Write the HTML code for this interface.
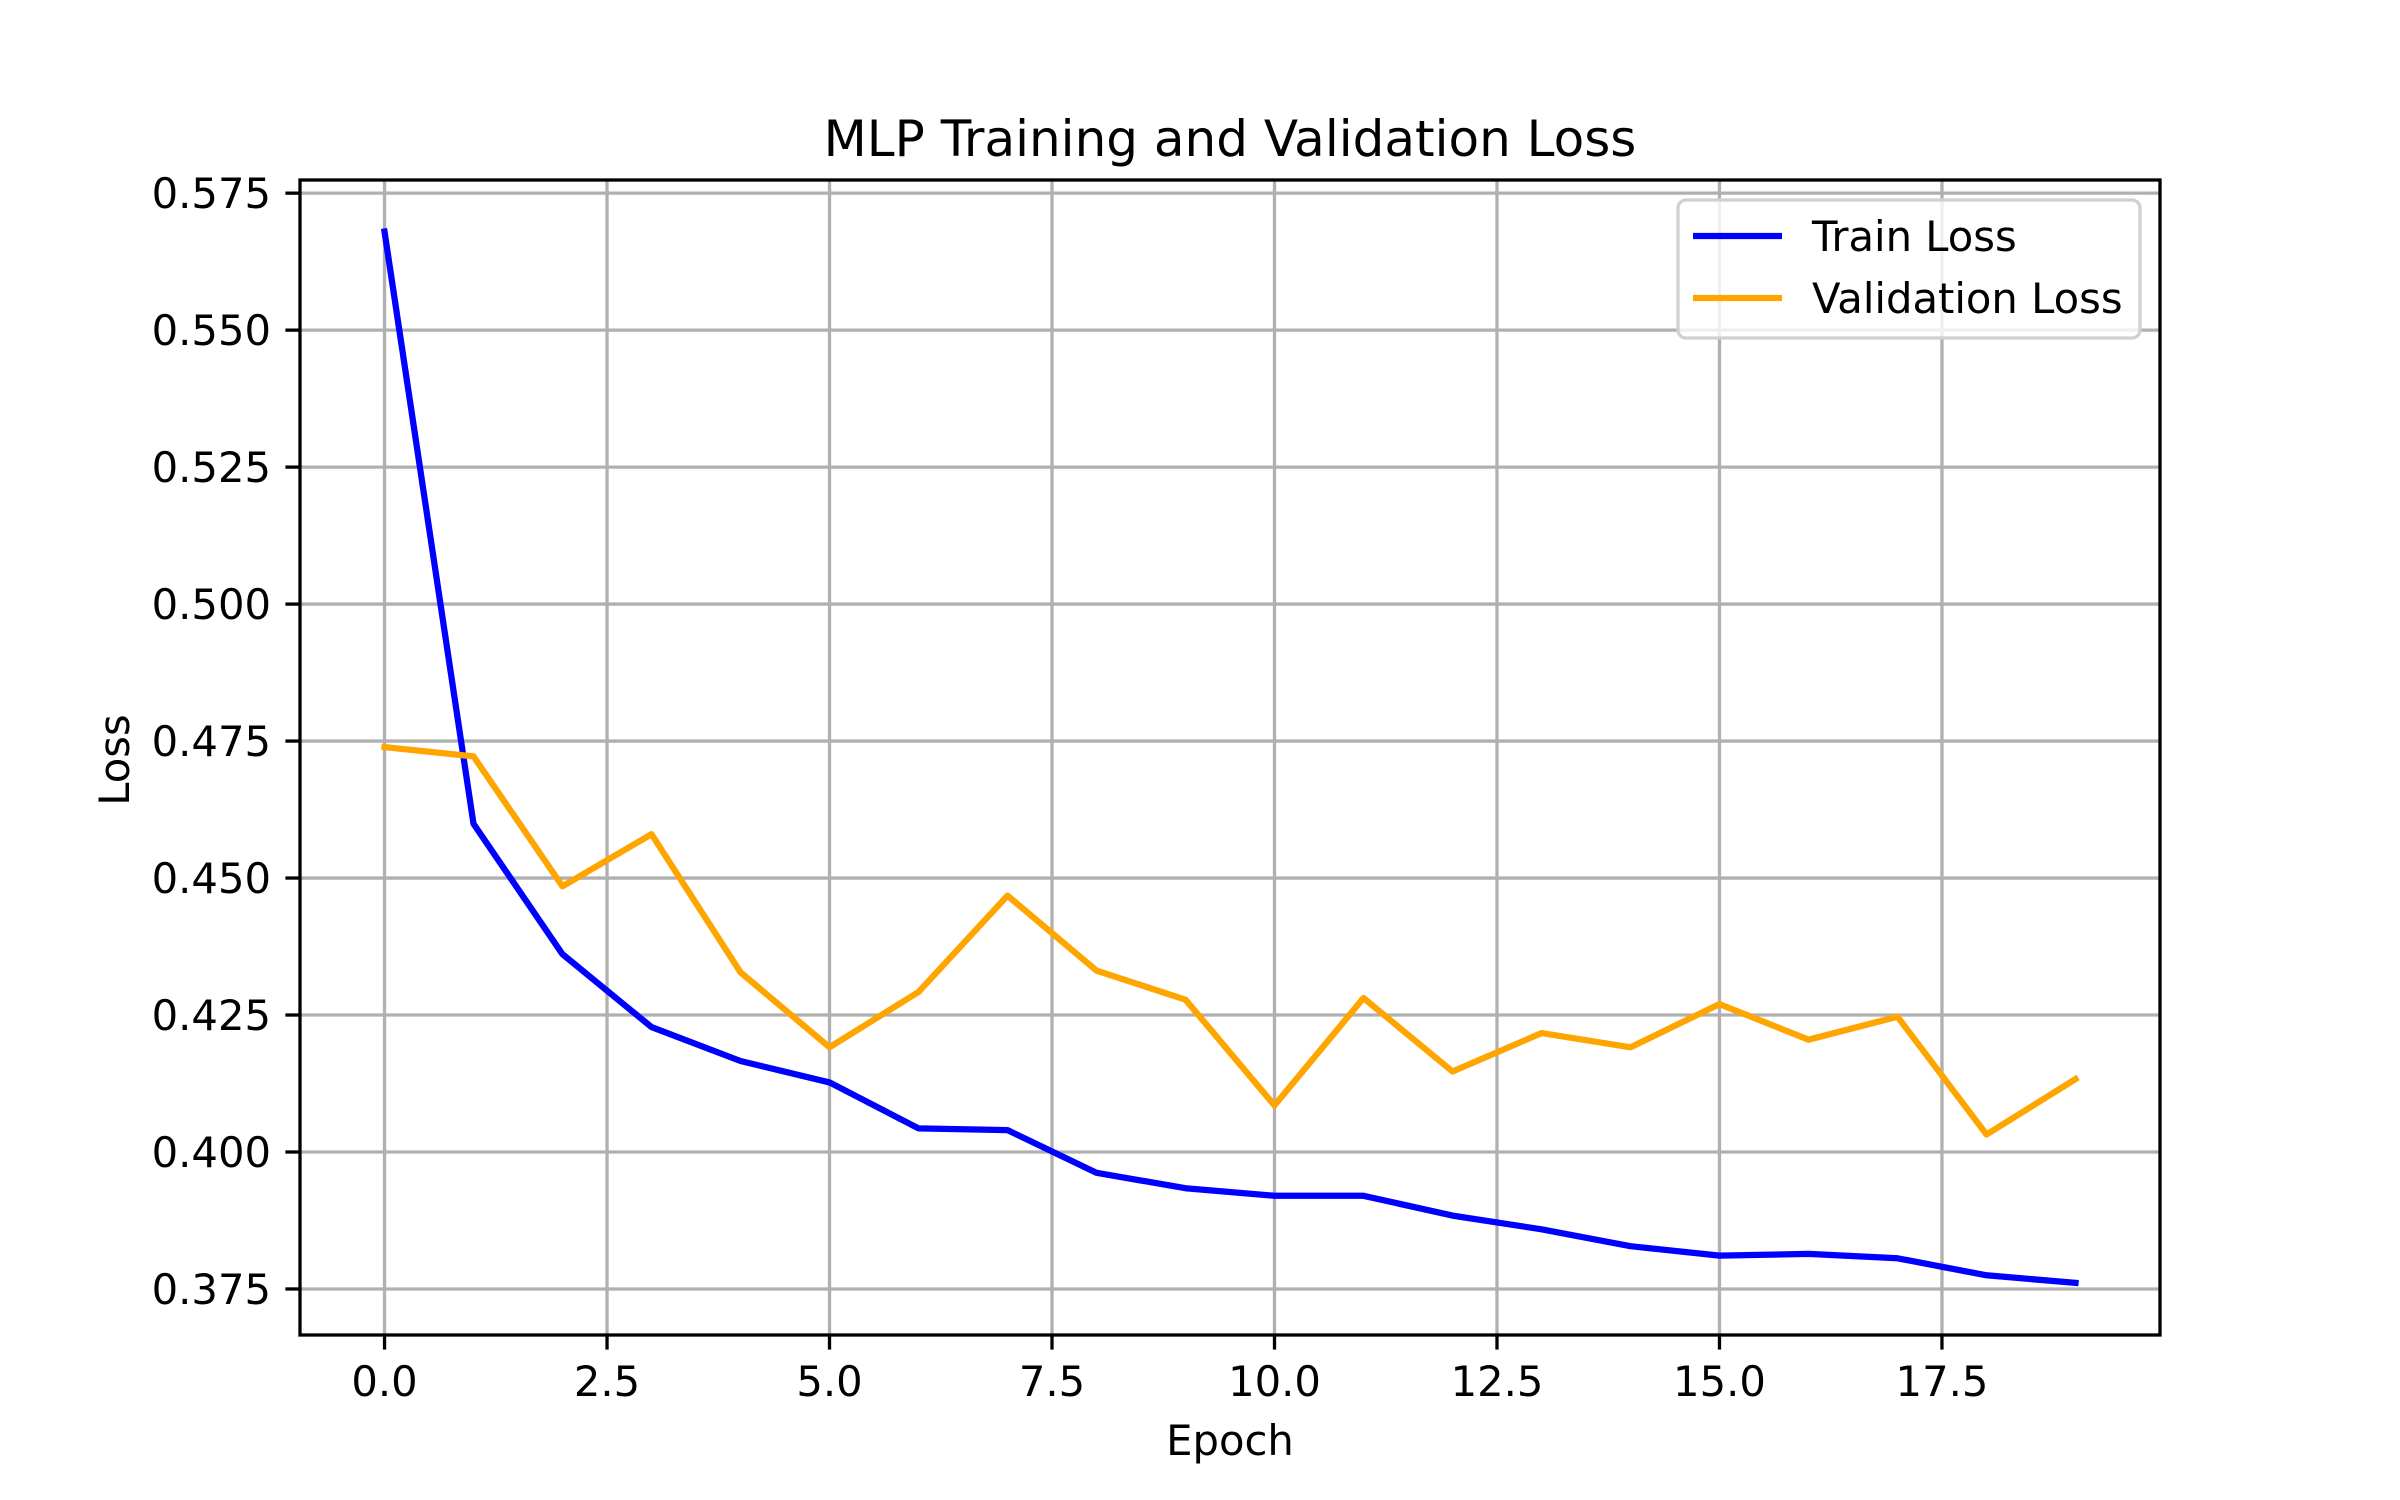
<!DOCTYPE html>
<html><head><meta charset="utf-8"><style>
html,body{margin:0;padding:0;background:#fff;}
svg{display:block;font-family:"DejaVu Sans","Liberation Sans",sans-serif;}
</style></head><body>
<svg id="chart" width="2400" height="1500" viewBox="0 0 2400 1500">
<rect width="2400" height="1500" fill="#fff"/>
<g id="grid"></g>
<g id="ticks"></g>
<g id="series"></g>
<rect x="300" y="180" width="1860" height="1155" fill="none" stroke="#000" stroke-width="3.3"/>
<text x="1230" y="156" font-size="50" text-anchor="middle">MLP Training and Validation Loss</text>
<text x="1230" y="1455" font-size="41.7" text-anchor="middle">Epoch</text>
<text x="0" y="0" font-size="41.7" text-anchor="middle" transform="translate(129,760) rotate(-90)">Loss</text>
<g>
<rect x="1678" y="200" width="462" height="138" rx="8" fill="#fff" fill-opacity="0.8" stroke="#d0d0d0" stroke-width="3.3"/>
<line x1="1693" y1="236" x2="1782" y2="236" stroke="blue" stroke-width="6.25"/>
<text x="1812" y="251" font-size="41.7">Train Loss</text>
<line x1="1693" y1="298" x2="1782" y2="298" stroke="orange" stroke-width="6.25"/>
<text x="1812" y="313" font-size="41.7">Validation Loss</text>
</g>
</svg>
<script>
const epochs = [0,1,2,3,4,5,6,7,8,9,10,11,12,13,14,15,16,17,18,19];
const trainLoss = [0.5680,0.4599,0.4361,0.4228,0.4166,0.4127,0.4043,0.4040,0.3962,0.3934,0.3920,0.3920,0.3884,0.3859,0.3828,0.3811,0.3814,0.3806,0.3775,0.3761];
const valLoss = [0.4739,0.4722,0.4485,0.4580,0.4328,0.4191,0.4292,0.4468,0.4331,0.4278,0.4085,0.4281,0.4147,0.4217,0.4191,0.4270,0.4205,0.4247,0.4032,0.4133];
const xTicks = [0,2.5,5,7.5,10,12.5,15,17.5];
const xTickLabels = ["0.0","2.5","5.0","7.5","10.0","12.5","15.0","17.5"];
const yTicks = [0.375,0.400,0.425,0.450,0.475,0.500,0.525,0.550,0.575];
const yTickLabels = ["0.375","0.400","0.425","0.450","0.475","0.500","0.525","0.550","0.575"];

const L=300,R=2160,T=180,B=1335;
const xMin=-0.95,xMax=19.95,yMin=0.3666,yMax=0.5774;
const xs=v=>L+(v-xMin)/(xMax-xMin)*(R-L);
const ys=v=>B-(v-yMin)/(yMax-yMin)*(B-T);
const NS="http://www.w3.org/2000/svg";
function mk(tag,attrs,parent){const e=document.createElementNS(NS,tag);for(const k in attrs)e.setAttribute(k,attrs[k]);parent.appendChild(e);return e;}
const grid=document.getElementById('grid'),ticks=document.getElementById('ticks'),series=document.getElementById('series');
xTicks.forEach((t,i)=>{
  const x=xs(t);
  const g=mk('line',{x1:x,y1:T,x2:x,y2:B,stroke:'#b0b0b0','stroke-width':3.3},grid);
  
  
  const tk=mk('line',{x1:x,y1:B,x2:x,y2:B+14.6,stroke:'#000','stroke-width':3.3},ticks);
  
  
  const tx=mk('text',{x:x,y:1396,'font-size':41.7,'text-anchor':'middle'},ticks);
  tx.textContent=xTickLabels[i];
  
  
});
yTicks.forEach((t,i)=>{
  const y=ys(t);
  const g=mk('line',{x1:L,y1:y,x2:R,y2:y,stroke:'#b0b0b0','stroke-width':3.3},grid);
  
  
  const tk=mk('line',{x1:L-14.6,y1:y,x2:L,y2:y,stroke:'#000','stroke-width':3.3},ticks);
  
  
  const tx=mk('text',{x:271,y:y+15,'font-size':41.7,'text-anchor':'end'},ticks);
  tx.textContent=yTickLabels[i];
  
  
});
function line(vals,color,name){
  const d=vals.map((v,i)=>(i?'L':'M')+xs(epochs[i]).toFixed(1)+','+ys(v).toFixed(1)).join(' ');
  const p=mk('path',{d:d,fill:'none',stroke:color,'stroke-width':6.25,'stroke-linejoin':'round','stroke-linecap':'square'},series);
  
  
}
line(trainLoss,'blue','train-loss-line');
line(valLoss,'orange','validation-loss-line');
</script>
</body></html>
